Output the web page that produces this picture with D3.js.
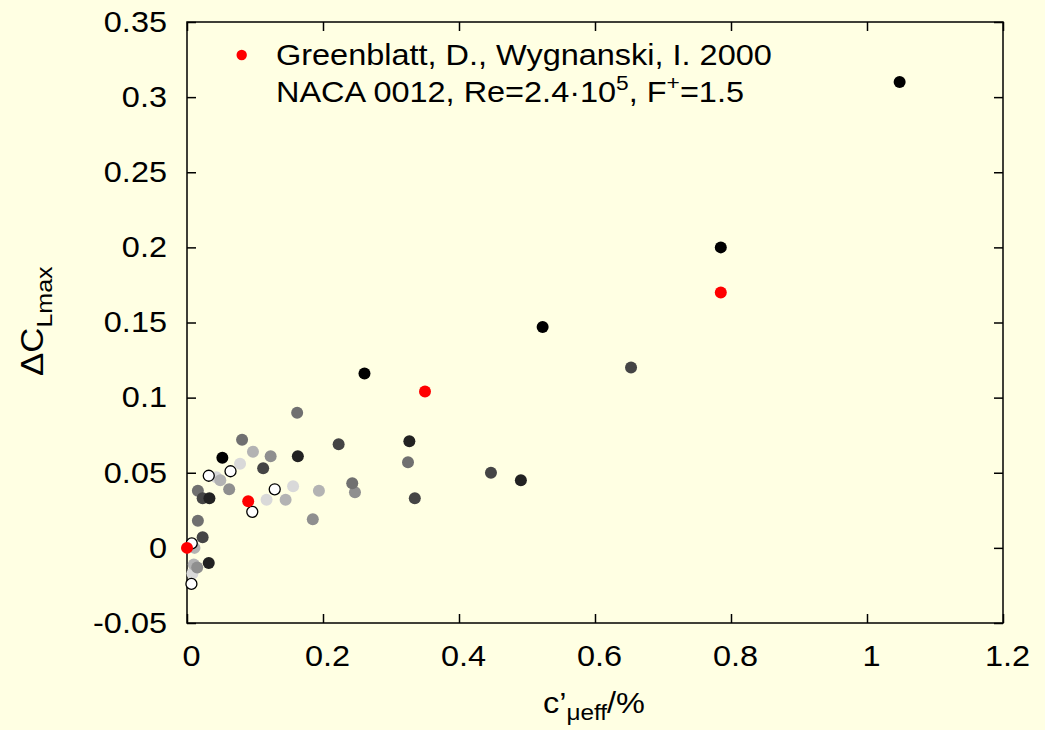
<!DOCTYPE html>
<html>
<head>
<meta charset="utf-8">
<script src="https://cdn.jsdelivr.net/npm/d3@7"></script>
<style>
  html, body { margin: 0; padding: 0; background: #ffffe3; }
  svg { display: block; }
  text { font-family: "Liberation Sans", Arial, Helvetica, sans-serif; fill: #000; }
</style>
</head>
<body>
<svg id="chart" width="1045" height="730"></svg>
<script>
// Greenblatt & Wygnanski (2000) reference points
const refPoints = [[0, 0], [0.09, 0.031], [0.35, 0.104], [0.785, 0.170]];

// Other data sets, one array per grey level
const seriesBlack = [[1.048, 0.310], [0.785, 0.200], [0.523, 0.147], [0.261, 0.116], [0.052, 0.060]];
const seriesDark1 = [[0.327, 0.071], [0.163, 0.061], [0.491, 0.045], [0.033, 0.033], [0.032, -0.010]];
const seriesDark2 = [[0.653, 0.120], [0.223, 0.069], [0.447, 0.050], [0.335, 0.033], [0.112, 0.053], [0.023, 0.033], [0.023, 0.007]];
const seriesMid1  = [[0.162, 0.090], [0.325, 0.057], [0.243, 0.043], [0.081, 0.072], [0.016, 0.038], [0.016, 0.018]];
const seriesMid2  = [[0.247, 0.037], [0.123, 0.061], [0.062, 0.039], [0.185, 0.019], [0.015, -0.013]];
const seriesLight1 = [[0.097, 0.064], [0.049, 0.045], [0.194, 0.038], [0.145, 0.032], [0.010, -0.011], [0.011, 0.000]];
const seriesLight2 = [[0.078, 0.056], [0.043, 0.047], [0.156, 0.041], [0.117, 0.032], [0.008, -0.017]];
const seriesOpen   = [[0.064, 0.051], [0.032, 0.048], [0.129, 0.039], [0.096, 0.024], [0.007, 0.003], [0.0065, -0.024]];

// Axis ticks
const xTicks = [0, 0.2, 0.4, 0.6, 0.8, 1, 1.2];
const xTickLabels = ["0", "0.2", "0.4", "0.6", "0.8", "1", "1.2"];
const yTicks = [-0.05, 0, 0.05, 0.1, 0.15, 0.2, 0.25, 0.3, 0.35];
const yTickLabels = ["-0.05", "0", "0.05", "0.1", "0.15", "0.2", "0.25", "0.3", "0.35"];

const legendLine1 = "Greenblatt, D., Wygnanski, I. 2000";

const svg = d3.select("#chart");
const W = 1045, H = 730;
const margin = { left: 187, right: 42, top: 22, bottom: 107 };
const plotW = W - margin.left - margin.right;
const plotH = H - margin.top - margin.bottom;
const fs = 29;
const sx = 1.12; // horizontal widening of the lettering

svg.append("rect").attr("width", W).attr("height", H).attr("fill", "#ffffe3");

const x = d3.scaleLinear().domain([0, 1.2]).range([margin.left, margin.left + plotW]);
const y = d3.scaleLinear().domain([-0.05, 0.35]).range([margin.top + plotH, margin.top]);

const tickLen = 9;

// Widen a text element about its own anchor point
function widen(sel) {
  sel.each(function () {
    const t = d3.select(this);
    const tx = +t.attr("x") || 0, ty = +t.attr("y") || 0;
    t.attr("x", 0).attr("y", 0)
     .attr("transform", `translate(${tx},${ty}) scale(${sx},1)`);
  });
}

function styleAxis(g) {
  g.select(".domain").remove();
  g.selectAll(".tick line").attr("stroke", "#000").attr("stroke-width", 1.5);
  g.selectAll("text").attr("font-size", fs).attr("font-family", "Liberation Sans, Arial, sans-serif");
}

// Bottom axis with labels
svg.append("g")
  .attr("transform", `translate(0,${y(-0.05)})`)
  .call(d3.axisBottom(x).tickValues(xTicks).tickSize(-tickLen).tickPadding(22)
    .tickFormat((d, i) => xTickLabels[i]))
  .call(styleAxis)
  .call(g => g.selectAll("text").attr("x", 4).call(widen));

// Top axis ticks only
svg.append("g")
  .attr("transform", `translate(0,${y(0.35)})`)
  .call(d3.axisTop(x).tickValues(xTicks).tickSize(-tickLen).tickFormat(""))
  .call(styleAxis);

// Left axis with labels
svg.append("g")
  .attr("transform", `translate(${x(0)},0)`)
  .call(d3.axisLeft(y).tickValues(yTicks).tickSize(-tickLen).tickPadding(20)
    .tickFormat((d, i) => yTickLabels[i]))
  .call(styleAxis)
  .call(g => g.selectAll("text").call(widen));

// Right axis ticks only
svg.append("g")
  .attr("transform", `translate(${x(1.2)},0)`)
  .call(d3.axisRight(y).tickValues(yTicks).tickSize(-tickLen).tickFormat(""))
  .call(styleAxis);

// Frame
svg.append("rect")
  .attr("x", x(0)).attr("y", y(0.35))
  .attr("width", x(1.2) - x(0)).attr("height", y(-0.05) - y(0.35))
  .attr("fill", "none").attr("stroke", "#000").attr("stroke-width", 1.5);

// Data points, lightest first so the darker and open markers sit on top
const layers = [
  { data: seriesLight2, fill: "#d9d9d9", stroke: "none" },
  { data: seriesLight1, fill: "#b3b3b3", stroke: "none" },
  { data: seriesMid2, fill: "#8f8f8f", stroke: "none" },
  { data: seriesMid1, fill: "#707070", stroke: "none" },
  { data: seriesDark2, fill: "#454545", stroke: "none" },
  { data: seriesDark1, fill: "#222222", stroke: "none" },
  { data: seriesBlack, fill: "#000000", stroke: "none" },
  { data: seriesOpen, fill: "#ffffff", stroke: "#000000" },
  { data: refPoints, fill: "#ff0000", stroke: "none" }
];

const r = 6;
layers.forEach(l => {
  svg.append("g").selectAll("circle")
    .data(l.data)
    .join("circle")
    .attr("cx", d => x(d[0]))
    .attr("cy", d => y(d[1]))
    .attr("r", l.stroke === "none" ? r : r - 0.5)
    .attr("fill", l.fill)
    .attr("stroke", l.stroke)
    .attr("stroke-width", l.stroke === "none" ? 0 : 1.3);
});

// Legend
const legend = svg.append("g");
legend.append("circle").attr("cx", 241.7).attr("cy", 55).attr("r", 5.2).attr("fill", "#ff0000");
legend.append("text").attr("transform", `translate(276,65) scale(${sx},1)`)
  .attr("font-size", fs).text(legendLine1);
const l2 = legend.append("text").attr("transform", `translate(276,102) scale(${sx},1)`)
  .attr("font-size", fs);
l2.append("tspan").text("NACA 0012, Re=2.4\u00b710");
l2.append("tspan").attr("font-size", fs * 0.7).attr("dy", -12).text("5");
l2.append("tspan").attr("dy", 12).text(", F");
l2.append("tspan").attr("font-size", fs * 0.7).attr("dy", -12).text("+");
l2.append("tspan").attr("dy", 12).text("=1.5");

// X axis title
const xt = svg.append("text").attr("transform", `translate(543,713) scale(${sx},1)`)
  .attr("font-size", fs);
xt.append("tspan").text("c\u2019");
xt.append("tspan").attr("font-size", fs * 0.75).attr("dy", 7).text("\u03bceff");
xt.append("tspan").attr("font-size", fs).attr("dy", -7).text("/%");

// Y axis title
const yt = svg.append("text")
  .attr("transform", "translate(43,376) rotate(-90) scale(1.2,1.1)")
  .attr("font-size", fs);
yt.append("tspan").text("\u0394C");
yt.append("tspan").attr("font-size", fs * 0.72).attr("dy", 8).text("Lmax");
</script>
</body>
</html>
